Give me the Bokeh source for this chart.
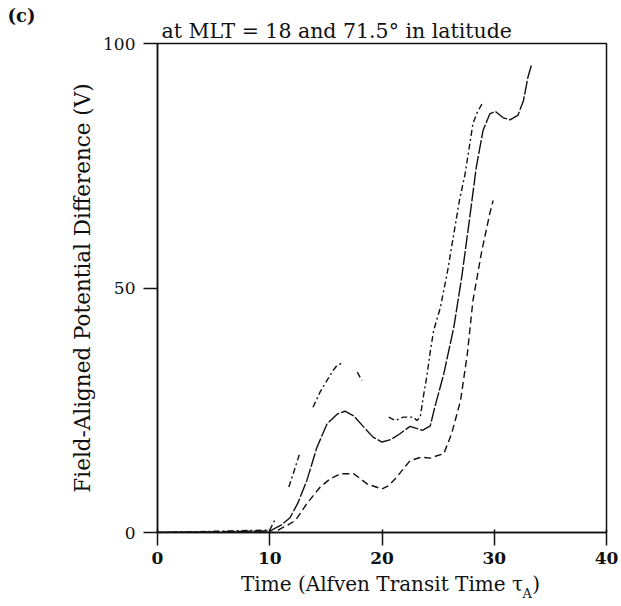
from bokeh.plotting import figure
from bokeh.models import Range1d, FixedTicker, LinearAxis
from bokeh.embed import file_html
from bokeh.resources import INLINE

NaN = float("nan")

# Middle curve (solid / long dash)
t_mid = [0, 10, 11, 11.8, 12.5, 13.3, 14.2, 15.1, 16.0, 16.7, 17.5, 18.4, 19.2, 20.0,
         20.8, 21.6, 22.5, 23.6, 24.3, 24.7, 25.5, 26.4, 27.1, 27.7, 28.4, 29.0, 29.6,
         30.1, 30.8, 31.4, 32.1, 32.6, 33.0, 33.3]
v_mid = [0, 0.3, 1.5, 3.0, 6.0, 10.6, 17.4, 22.2, 24.2, 24.8, 23.8, 21.5, 19.5, 18.5,
         19.0, 20.2, 21.7, 20.9, 21.8, 25.6, 32.4, 42.0, 52.2, 62.4, 74.7, 82.2, 85.6,
         86.1, 84.8, 84.4, 85.3, 88.3, 93.1, 95.5]

# Lower curve (dashed)
t_low = [0, 10.4, 10.9, 11.6, 12.3, 13.3, 14.5, 15.4, 16.3, 17.5, 18.7, 20.0, 20.6,
         21.3, 22.5, 23.5, 24.3, 24.9, 25.5, 26.2, 27.0, 27.6, 28.1, 28.9, 29.6, 29.9]
v_low = [0, 0, 0.7, 1.5, 2.5, 5.9, 9.3, 11.0, 12.0, 12.0, 9.9, 8.9, 9.6,
         11.3, 14.7, 15.4, 15.2, 15.7, 16.1, 20.2, 27.0, 36.5, 47.4, 57.7, 65.2, 67.9]

# Upper curve (dash-dot, broken in the original)
t_up = [0, 10.0, 10.5, NaN, 11.7, 12.2, 12.7, NaN, 13.85, 14.5, 15.1, 15.6, 16.0, 16.6,
        NaN, 17.8, 18.2, NaN, 20.6, 21.2, 21.9, 22.8, 23.1, 23.4, 23.7, 24.0, 24.3, 24.6,
        25.2, 25.8, 26.4, 26.9, 27.4, 28.1, 28.5, 28.9]
v_up = [0, 0.5, 2.8, NaN, 9.3, 12.8, 16.4, NaN, 25.6, 28.8, 31.1, 33.0, 34.2, 34.8,
        NaN, 32.8, 31.1, NaN, 23.6, 22.9, 23.6, 23.6, 22.9, 23.5, 28.0, 32.0, 37.0, 41.3,
        46.0, 52.9, 61.1, 67.9, 73.3, 83.6, 86.0, 87.6]

x_ticks = [0, 10, 20, 30, 40]
y_ticks = [0, 50, 100]

title_text = "at MLT = 18 and 71.5\u00b0 in latitude"
ylabel_text = "Field-Aligned Potential Difference (V)"
xlabel_main = "Time (Alfven Transit Time \u03c4"
xlabel_sub = "A"
xlabel_end = ")"
panel_text = "(c)"

FONT = "DejaVu Serif"
INK = "#111111"

p = figure(width=621, height=606, output_backend="svg", toolbar_location=None,
           x_range=Range1d(0, 40), y_range=Range1d(0, 100),
           min_border_left=157, min_border_right=15, min_border_top=43, min_border_bottom=74)
p.background_fill_color = "white"
p.border_fill_color = "white"
p.outline_line_color = INK
p.outline_line_width = 1.5
p.xgrid.visible = False
p.ygrid.visible = False

p.xaxis.ticker = FixedTicker(ticks=x_ticks, minor_ticks=[])
p.yaxis.ticker = FixedTicker(ticks=y_ticks, minor_ticks=[])
for ax in (p.xaxis, p.yaxis):
    ax.axis_line_color = INK
    ax.axis_line_width = 1.5
    ax.major_tick_line_color = INK
    ax.major_tick_line_width = 1.5
    ax.minor_tick_line_color = None
    ax.major_label_text_font = FONT
    ax.major_label_text_font_size = "17px"
    ax.major_label_text_color = INK
p.xaxis.major_tick_in = 3
p.xaxis.major_tick_out = 13
p.xaxis.major_label_standoff = 6
p.xaxis.major_label_text_font_style = "bold"
p.yaxis.major_tick_in = 0
p.yaxis.major_tick_out = 14
p.yaxis.major_label_standoff = 8
p.yaxis.axis_label = ylabel_text
p.yaxis.axis_label_text_font = FONT
p.yaxis.axis_label_text_font_size = "21.5px"
p.yaxis.axis_label_text_font_style = "normal"
p.yaxis.axis_label_text_color = INK
p.yaxis.axis_label_standoff = 5


def text_axis(ticks, labels, size, standoff, style="normal"):
    """An axis with no line and no ticks that only carries text labels."""
    ax = LinearAxis(ticker=FixedTicker(ticks=ticks, minor_ticks=[]),
                    major_label_overrides=dict(zip(ticks, labels)))
    ax.axis_line_color = None
    ax.major_tick_line_color = None
    ax.minor_tick_line_color = None
    ax.major_tick_in = 0
    ax.major_tick_out = 0
    ax.major_label_standoff = standoff
    ax.major_label_text_font = FONT
    ax.major_label_text_font_size = size
    ax.major_label_text_font_style = style
    ax.major_label_text_color = INK
    return ax

# chart title (centred where the original sits)
p.add_layout(text_axis([15.97], [title_text], "20.5px", 1), "above")

# panel letter, top-left corner
p.title.text = panel_text
p.title.align = "left"
p.title.offset = -150
p.title.standoff = -20
p.title.text_font = FONT
p.title.text_font_size = "18px"
p.title.text_font_style = "bold"
p.title.text_color = INK

# x-axis title: main text and closing parenthesis, then the subscript A
p.add_layout(text_axis([20.0, 33.73], [xlabel_main, xlabel_end], "20px", 5), "below")
p.add_layout(text_axis([32.93], [xlabel_sub], "13px", -13), "below")

p.line(t_mid, v_mid, line_color=INK, line_width=1.4, line_dash="14 2")
p.line(t_low, v_low, line_color=INK, line_width=1.4, line_dash="7 4")
p.line(t_up, v_up, line_color=INK, line_width=1.4, line_dash="6 3 2 3")

open("out.html", "w").write(file_html(p, INLINE))
